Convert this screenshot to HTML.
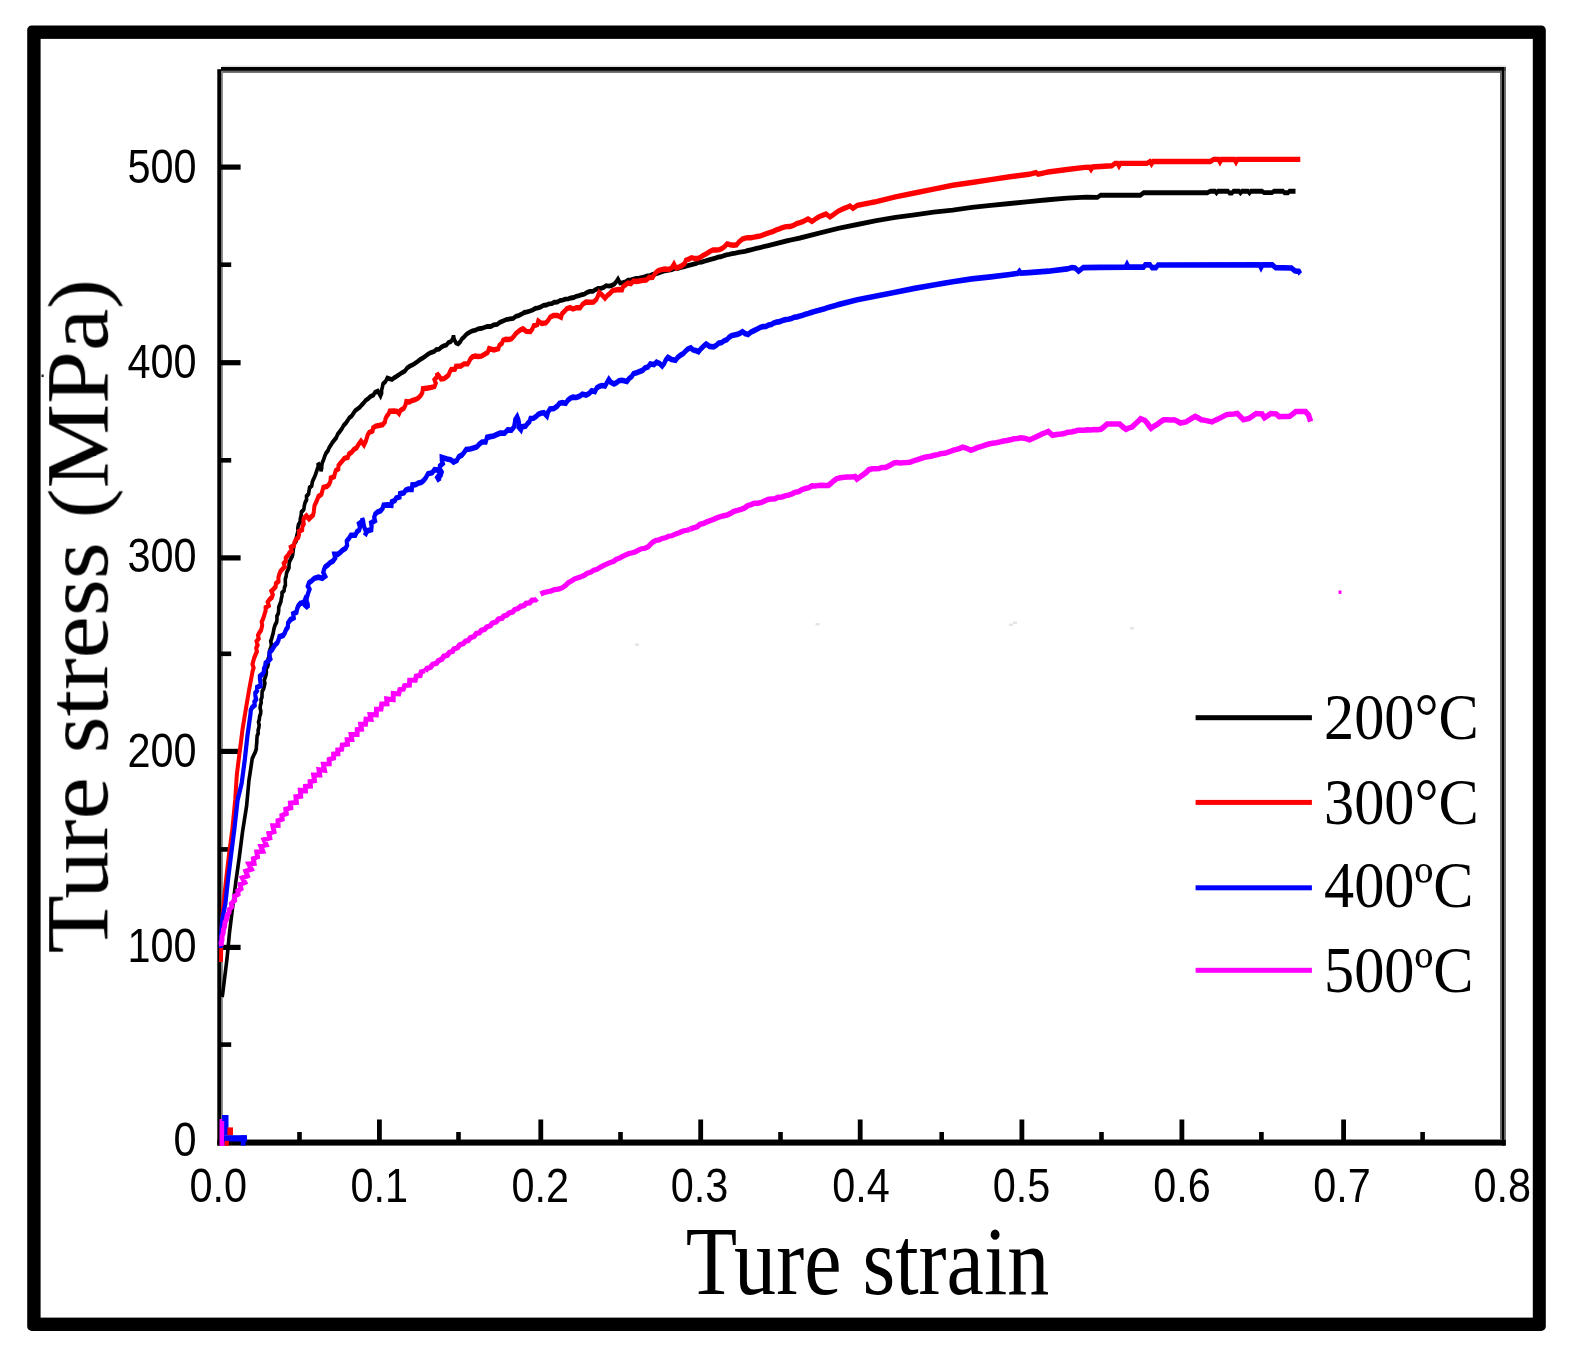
<!DOCTYPE html>
<html lang="en"><head><meta charset="utf-8"><title>Ture stress - Ture strain</title>
<style>
html,body{margin:0;padding:0;background:#fff;}
body{width:1572px;height:1354px;overflow:hidden;}
svg{display:block;}
.tk{font-family:"Liberation Sans",sans-serif;font-size:48px;fill:#000;}
.lb{font-family:"Liberation Serif",serif;fill:#000;}
.cv{fill:none;stroke-linejoin:miter;stroke-linecap:butt;}
</style></head><body>
<svg width="1572" height="1354" viewBox="0 0 1572 1354">
<rect x="0" y="0" width="1572" height="1354" fill="#fff"/>
<defs><filter id="soft" x="0" y="0" width="1572" height="1354" filterUnits="userSpaceOnUse"><feGaussianBlur stdDeviation="0.5"/></filter></defs>
<g filter="url(#soft)">
<rect x="27.2" y="25.5" width="1518.6" height="1305.4" rx="4.5" ry="4.5" fill="#000"/>
<rect x="40.6" y="38.9" width="1492.2" height="1278.7" fill="#fff"/>
<g id="frame">
<rect x="221.5" y="65.4" width="1284" height="1.6" fill="#e2e2e2"/>
<rect x="221" y="67" width="1284.8" height="3.9" fill="#000"/>
<rect x="222.5" y="70.9" width="1279.5" height="2" fill="#666"/>
<rect x="1500" y="70.9" width="2.1" height="1072" fill="#666"/>
<rect x="1502" y="67" width="2.3" height="1078.6" fill="#000"/>
<rect x="1504.2" y="67" width="1.6" height="1078.6" fill="#555"/>
<rect x="217.3" y="69.2" width="4.2" height="1076.4" fill="#000"/>
<rect x="221.5" y="70.9" width="1.3" height="1069" fill="#777"/>
<rect x="222" y="1139.1" width="1280" height="0.8" fill="#999"/>
<rect x="217.3" y="1139.8" width="1288.5" height="5.8" fill="#000"/>
<rect x="377.0" y="1119.5" width="4.8" height="22" fill="#000"/>
<rect x="538.4" y="1119.5" width="4.8" height="22" fill="#000"/>
<rect x="698.3" y="1119.5" width="4.8" height="22" fill="#000"/>
<rect x="857.8" y="1119.5" width="4.8" height="22" fill="#000"/>
<rect x="1019.5" y="1119.5" width="4.8" height="22" fill="#000"/>
<rect x="1179.5" y="1119.5" width="4.8" height="22" fill="#000"/>
<rect x="1341.2" y="1119.5" width="4.8" height="22" fill="#000"/>
<rect x="297.2" y="1132" width="4.6" height="9" fill="#000"/>
<rect x="456.2" y="1132" width="4.6" height="9" fill="#000"/>
<rect x="618.2" y="1132" width="4.6" height="9" fill="#000"/>
<rect x="778.2" y="1132" width="4.6" height="9" fill="#000"/>
<rect x="939.4" y="1132" width="4.6" height="9" fill="#000"/>
<rect x="1099.2" y="1132" width="4.6" height="9" fill="#000"/>
<rect x="1259.1" y="1132" width="4.6" height="9" fill="#000"/>
<rect x="1420.3" y="1132" width="4.6" height="9" fill="#000"/>
<rect x="221" y="944.8" width="19.6" height="5.2" fill="#000"/>
<rect x="221" y="748.8" width="19.6" height="5.2" fill="#000"/>
<rect x="221" y="555.3" width="19.6" height="5.2" fill="#000"/>
<rect x="221" y="360.1" width="19.6" height="5.2" fill="#000"/>
<rect x="221" y="164.5" width="19.6" height="5.2" fill="#000"/>
<rect x="221" y="1042.3" width="10.2" height="4.6" fill="#000"/>
<rect x="221" y="847.1" width="10.2" height="4.6" fill="#000"/>
<rect x="221" y="651.5" width="10.2" height="4.6" fill="#000"/>
<rect x="221" y="458.0" width="10.2" height="4.6" fill="#000"/>
<rect x="221" y="262.4" width="10.2" height="4.6" fill="#000"/>
</g>
<g id="curves">
<g transform="scale(1,1.35)" stroke-miterlimit="2">
<polyline class="cv" stroke="#000" stroke-width="3.6" points="222.2,738.52 222.9,734.81 224.6,724.59 227.0,710.15 229.5,690.89 232.7,671.63 236.0,652.37 239.2,635.56 242.5,616.30 246.6,597.04 249.0,577.78 249.8,574.07 252.2,562.00 253.6,559.61 255.2,557.30 256.3,554.81 256.4,552.40 256.8,550.00 256.9,547.59 257.1,545.19 258.2,543.19 258.1,541.09 258.8,539.05 259.2,537.00 258.5,534.83 259.3,532.81 259.6,530.74 260.6,528.74 260.8,526.66 260.1,524.50 260.4,522.43 261.2,520.41 261.0,518.30 262.0,516.30 262.0,514.18 262.2,512.09 263.6,510.14 264.3,508.10 264.9,506.06 264.2,503.85 265.2,501.85 266.0,499.83 266.4,497.76 266.1,495.59 267.7,493.67 268.3,491.63 267.6,489.42 268.5,487.41 269.7,485.43 269.3,483.26 269.9,481.21 271.1,479.25 271.3,477.15 270.7,474.96 271.7,472.96 272.4,470.91 273.2,468.90 273.7,466.82 274.3,464.74 275.2,462.75 276.6,460.84 277.0,458.74 276.9,456.42 278.3,454.35 278.7,452.12 278.7,449.82 279.8,447.70 280.9,445.56 281.3,443.33 282.0,441.30 282.0,439.14 284.1,437.36 284.4,435.27 285.4,433.28 285.3,431.11 285.3,428.85 286.2,426.72 286.5,424.50 287.8,422.44 289.0,420.43 289.0,418.16 289.5,416.01 290.8,414.00 292.3,412.04 292.9,409.91 293.2,407.70 293.6,405.27 294.2,402.86 296.2,400.71 296.4,398.24 297.1,395.85 298.1,393.61 297.8,391.16 298.4,388.85 300.1,386.71 300.3,384.35 301.1,382.07 301.4,379.47 303.8,377.30 304.3,374.73 305.1,372.22 306.6,370.13 306.5,367.66 308.6,365.75 309.1,363.41 309.5,361.25 311.8,359.63 312.2,357.48 313.1,355.46 314.4,353.56 315.8,350.87 317.0,348.15 318.2,345.63 318.0,342.96 319.3,344.84 320.6,346.76 321.0,348.89 321.7,346.86 321.8,344.75 322.3,342.68 323.5,340.74 324.6,338.15 326.0,335.67 328.2,333.48 329.2,331.50 330.8,329.77 332.3,327.97 334.0,326.30 336.3,324.19 337.7,321.62 340.0,319.48 342.0,317.43 343.6,315.16 346.0,313.33 347.7,311.47 349.3,309.47 351.8,308.07 353.4,306.18 355.0,304.30 357.5,302.96 359.8,301.65 361.7,299.99 363.7,298.44 365.6,296.60 368.2,295.26 370.5,293.70 373.3,292.78 375.0,290.66 377.8,289.70 380.5,293.33 381.6,291.19 381.6,288.87 382.4,286.67 383.0,284.44 385.6,282.49 387.3,280.07 392.0,281.11 394.3,279.80 396.7,278.70 399.1,277.48 402.0,276.06 405.0,274.75 407.1,272.56 410.0,271.11 412.8,270.26 415.3,268.95 417.8,267.69 420.2,266.27 422.8,265.19 425.5,263.83 428.0,262.32 430.9,261.19 434.0,260.37 436.2,258.96 439.1,258.70 441.3,257.22 443.7,256.17 446.4,255.56 448.3,253.87 451.0,252.96 452.8,250.94 453.5,248.59 454.2,251.47 456.0,254.07 458.2,254.67 460.3,253.12 461.8,251.14 464.0,249.63 466.7,247.54 470.0,245.93 472.6,245.04 475.5,244.58 478.1,243.59 481.0,243.33 484.2,242.60 487.2,241.73 490.7,241.86 493.7,240.67 497.1,240.22 499.9,238.79 503.0,237.78 506.4,236.67 510.0,236.15 513.3,235.83 516.0,234.26 519.1,233.63 521.7,232.67 524.3,231.47 527.2,231.09 530.0,230.38 532.7,229.61 535.3,228.47 538.2,228.00 540.9,227.40 543.4,226.23 546.3,225.92 548.9,225.12 551.8,224.87 554.4,223.86 557.3,223.78 559.8,222.62 562.6,222.33 565.3,221.63 568.2,221.42 570.9,220.74 573.7,220.38 576.3,219.48 579.1,218.96 581.9,218.33 584.7,217.81 587.2,216.56 589.9,215.79 592.9,215.83 595.4,214.59 598.0,213.58 601.0,213.62 603.7,212.91 606.1,211.62 609.2,211.90 612.0,211.35 614.5,210.30 616.4,208.56 618.0,206.67 620.0,209.63 622.8,209.30 625.6,208.82 628.0,207.58 630.9,207.40 633.6,206.81 636.3,206.31 639.2,206.10 641.9,205.57 644.6,205.08 647.3,204.35 650.1,204.12 652.7,203.26 655.5,202.89 658.2,202.39 660.8,201.53 663.5,200.87 666.2,200.44 669.0,200.10 671.8,199.70 674.9,198.86 678.2,198.73 681.3,197.96 684.5,197.41 687.7,196.82 690.8,196.15 693.6,195.69 696.3,195.04 698.9,194.25 701.8,194.09 704.5,193.52 707.2,192.85 709.9,192.30 712.6,191.76 715.4,191.25 718.0,190.49 720.8,190.18 723.5,189.46 726.2,188.84 729.0,188.44 732.2,187.91 735.4,187.53 738.5,186.93 741.7,186.57 744.9,186.14 748.1,185.56 750.8,185.06 753.6,184.55 756.3,184.06 759.0,183.58 761.8,183.09 764.5,182.58 767.2,182.07 786.3,178.52 800.0,176.30 819.1,172.67 838.2,169.11 857.3,166.30 876.3,163.41 895.4,161.04 914.5,159.19 933.6,157.11 952.7,155.70 971.8,153.56 990.8,152.15 1009.9,150.74 1029.0,149.33 1048.1,147.93 1067.2,146.74 1086.3,146.07 1097.5,146.22 1100.7,144.59 1140.4,144.59 1143.6,142.81 1207.2,142.81 1210.4,141.63 1215.0,141.63 1216.5,142.96 1218.0,141.63 1228.0,141.63 1229.5,142.96 1232.0,142.96 1233.5,141.63 1239.0,141.63 1240.5,142.96 1242.0,141.63 1248.0,141.63 1249.5,142.96 1251.0,141.63 1262.0,141.63 1264.0,142.67 1272.0,142.67 1274.0,141.63 1283.0,141.63 1284.5,142.81 1288.0,142.81 1289.5,141.63 1295.5,141.63"/>
<polyline class="cv" stroke="#f00" stroke-width="4.0" points="221.0,712.59 221.3,696.30 221.8,685.19 223.5,669.26 226.0,652.37 229.0,633.11 232.4,613.85 235.2,592.59 236.8,574.07 239.2,559.63 240.9,550.00 242.5,540.37 245.7,525.93 249.0,511.48 252.6,497.04 253.6,494.68 252.5,492.04 253.3,489.66 254.2,487.28 255.5,484.96 256.9,482.67 256.2,480.08 257.6,477.79 256.6,475.15 258.7,472.96 258.0,470.72 259.2,468.79 261.0,466.95 261.7,464.93 262.2,462.89 261.7,460.67 262.9,458.74 263.9,456.66 264.7,454.53 265.6,452.43 265.6,450.09 268.7,448.54 267.7,445.96 269.5,444.07 271.9,442.51 272.8,440.51 271.4,437.78 273.7,436.19 275.7,434.52 275.9,432.30 278.5,430.56 278.4,427.92 279.2,425.60 280.4,423.38 282.5,421.48 284.8,419.88 283.8,417.30 285.9,415.64 285.7,413.31 287.8,411.63 289.2,409.68 291.7,408.13 290.8,405.34 294.0,404.05 294.5,401.76 295.8,399.78 298.2,398.20 299.0,396.05 299.1,393.62 302.2,392.32 302.4,389.95 303.8,388.00 303.3,385.70 304.1,383.71 306.4,382.07 309.0,384.44 311.0,382.95 313.1,381.48 313.8,379.22 314.1,376.89 314.5,374.57 315.8,372.44 317.1,370.30 318.4,367.80 321.5,366.08 322.4,363.41 323.3,360.96 327.0,360.33 329.2,358.73 330.4,356.52 330.7,354.16 334.2,352.98 334.9,350.78 335.7,348.59 338.3,347.32 338.5,344.77 340.3,343.10 342.3,341.48 344.3,339.59 347.8,338.79 349.0,336.30 351.7,334.92 353.8,332.99 356.6,331.70 358.6,329.10 361.0,326.67 364.0,329.63 366.0,326.52 366.8,324.35 367.7,322.19 369.2,320.32 372.6,319.17 373.1,316.89 375.8,315.59 379.0,315.19 382.7,314.64 385.0,312.44 385.5,310.26 386.7,308.31 388.6,306.57 389.7,304.59 394.0,304.44 397.0,304.79 399.1,306.37 400.5,304.02 403.8,302.48 405.4,300.20 406.2,297.56 409.3,297.79 412.0,296.67 415.1,296.09 418.0,294.96 420.7,293.03 422.4,290.71 422.8,287.93 428.0,287.41 431.3,286.92 434.6,286.22 435.8,283.90 434.5,281.23 437.1,279.09 437.0,276.59 439.1,278.60 441.0,280.74 444.0,280.49 446.4,279.19 448.6,277.83 449.7,275.73 451.1,273.81 455.0,273.54 455.9,271.33 461.0,271.11 464.0,269.54 467.7,269.56 469.2,267.77 470.4,265.86 472.4,264.30 475.2,263.74 478.0,264.07 481.3,263.84 484.2,262.59 487.7,261.08 489.0,258.22 494.0,259.26 498.4,258.22 499.3,255.91 501.9,254.29 503.1,252.07 505.8,251.27 508.7,251.46 511.5,250.96 513.6,249.31 515.4,247.44 517.7,245.95 520.0,244.55 522.9,243.56 526.3,245.44 530.5,245.63 532.4,243.68 533.7,241.37 537.3,240.33 538.2,237.85 541.6,239.63 545.8,239.26 548.2,237.30 550.1,234.94 553.4,233.63 557.5,233.67 561.1,235.04 562.0,232.41 564.5,230.60 566.8,228.67 570.0,227.87 573.0,228.89 576.5,227.87 580.2,228.00 582.5,225.48 585.9,223.70 589.7,223.86 593.5,223.70 596.4,221.80 597.9,219.30 599.2,216.67 602.3,218.64 605.0,220.89 607.4,218.88 610.1,217.17 612.6,215.26 615.7,214.78 618.9,214.47 622.1,214.59 623.1,212.36 625.5,210.99 627.9,209.63 631.0,210.17 633.4,208.16 636.5,208.53 639.3,208.15 642.7,207.70 646.2,207.44 649.2,205.58 652.7,205.41 654.2,203.49 656.0,201.81 658.4,200.44 661.7,199.74 665.1,199.28 668.7,199.60 671.8,198.30 674.0,195.56 676.0,198.52 679.4,197.63 682.2,196.62 684.6,195.22 685.9,192.78 688.9,191.93 691.6,190.90 694.7,191.52 697.7,191.44 700.4,190.52 703.5,189.08 706.8,187.81 709.9,186.30 712.9,185.20 716.3,185.22 719.5,184.89 722.4,183.89 724.9,182.39 727.1,180.67 730.2,181.29 733.4,181.65 736.6,181.33 739.2,179.03 742.4,177.11 745.2,176.37 748.0,176.06 751.0,176.08 753.8,175.70 757.2,175.16 760.6,174.68 763.9,173.79 767.2,172.89 770.3,172.14 773.4,171.37 776.3,170.28 779.4,169.49 782.4,168.59 786.1,167.88 790.0,167.78 793.4,166.97 796.6,165.70 800.0,164.89 802.8,164.20 805.4,163.18 808.0,162.22 812.0,164.07 814.3,162.85 816.6,161.63 819.1,160.59 822.5,159.48 826.0,158.52 830.0,160.74 832.8,159.31 835.5,157.87 838.2,156.37 841.1,155.36 844.1,154.41 847.1,153.54 850.0,152.59 853.0,154.44 857.3,152.15 860.5,151.68 863.6,151.21 866.8,150.73 870.0,150.27 873.1,149.79 876.3,149.33 895.4,145.78 914.5,142.96 933.6,140.15 952.7,137.26 971.8,135.19 990.8,133.04 1009.9,130.96 1029.0,129.11 1036.0,127.78 1038.0,129.04 1048.1,127.41 1067.2,125.56 1084.8,124.00 1089.5,123.93 1091.0,125.63 1092.5,123.70 1111.8,122.81 1115.0,121.04 1117.5,121.04 1119.0,122.96 1120.5,121.04 1146.8,121.04 1150.0,119.63 1151.5,121.48 1153.0,119.63 1210.4,119.63 1213.6,118.07 1218.5,118.07 1220.0,120.15 1221.5,118.15 1234.5,118.15 1236.0,120.15 1237.5,118.07 1300.3,118.07"/>
<polyline class="cv" stroke="#00f" stroke-width="4.2" points="220.6,702.22 221.0,692.59 222.2,681.26 225.4,669.26 227.9,652.37 231.1,633.11 234.4,613.85 237.6,592.59 241.7,580.07 244.9,562.00 247.4,545.19 250.6,528.30 250.7,526.04 252.1,524.06 254.7,522.35 254.4,520.00 256.1,518.08 255.4,515.67 255.3,513.38 257.1,511.48 257.1,509.25 260.6,507.87 260.5,505.64 260.0,503.28 259.9,501.02 262.5,499.43 264.0,497.58 264.0,495.34 265.2,493.41 265.6,491.17 268.2,489.70 270.3,488.05 269.2,485.27 269.7,483.09 272.0,481.49 273.5,479.64 275.0,477.78 277.3,476.22 278.5,474.07 279.4,471.68 283.1,470.77 284.8,468.78 286.0,466.50 287.8,464.59 288.1,461.47 290.5,458.89 293.7,457.60 293.2,454.65 296.5,453.42 297.1,450.96 298.3,448.75 300.3,447.01 303.9,446.27 305.1,444.07 306.7,445.86 305.3,448.43 307.8,450.00 307.8,447.75 306.6,445.49 306.7,443.24 307.5,440.98 308.4,438.73 309.5,436.48 307.8,434.22 309.0,431.63 311.9,430.13 314.4,428.37 318.4,427.56 322.4,428.37 325.1,426.89 323.3,424.06 324.0,421.99 325.1,420.03 327.7,418.52 330.1,416.80 333.0,415.56 335.2,413.34 334.4,410.67 337.7,410.64 340.1,409.28 342.3,407.70 345.6,406.16 347.1,403.85 346.8,400.80 349.0,398.81 350.9,396.51 355.3,396.50 356.9,393.93 359.2,392.52 360.0,390.37 359.0,387.93 362.1,386.29 362.3,384.07 363.2,386.15 363.6,388.27 364.2,390.37 365.3,392.43 366.3,394.48 364.9,396.81 365.9,394.73 367.8,393.13 371.3,392.40 371.6,389.93 371.1,387.34 375.0,385.69 374.2,383.04 375.2,380.77 377.5,379.26 380.7,378.31 382.6,376.54 383.5,374.22 387.5,374.03 391.5,374.22 391.8,371.76 394.8,370.77 396.2,368.90 399.6,368.11 400.0,365.70 403.9,365.04 405.6,363.15 408.3,362.37 411.8,362.45 412.3,359.25 415.5,358.96 418.0,358.00 421.4,357.28 423.9,355.74 426.0,353.70 428.0,350.90 432.2,350.15 434.4,347.96 438.0,348.15 440.1,350.72 437.3,353.72 439.3,356.30 438.7,354.03 440.8,351.98 441.7,349.83 439.9,347.47 439.9,345.26 442.8,343.26 441.8,340.97 441.7,338.74 447.0,340.00 450.6,340.50 453.5,342.22 456.9,340.96 458.7,338.37 462.0,337.04 464.2,335.05 466.2,332.96 470.0,332.59 473.5,331.92 476.8,331.01 479.3,329.03 482.0,327.41 485.7,327.41 487.0,323.99 490.3,323.41 493.7,322.96 496.8,321.86 500.0,320.89 504.5,320.85 507.6,318.44 511.5,318.53 514.0,316.30 514.7,313.63 515.2,310.95 517.2,308.59 518.4,311.00 519.1,313.51 518.5,316.31 521.0,318.44 522.0,316.18 525.7,315.61 527.4,313.81 529.5,312.27 530.5,310.00 533.6,309.85 536.0,308.56 538.3,306.98 540.9,306.10 543.9,305.70 547.0,308.15 548.0,305.40 550.0,302.96 554.0,302.63 557.3,300.81 559.4,298.83 562.3,298.22 565.8,298.73 567.8,296.53 570.2,295.15 572.9,294.16 576.3,294.44 579.4,293.59 582.2,292.01 586.2,292.70 589.1,291.46 591.6,289.48 594.9,290.06 596.7,287.44 599.1,286.25 601.8,285.57 605.0,285.93 606.9,283.48 608.8,281.04 610.9,283.17 614.0,284.44 616.6,283.40 619.0,281.98 622.1,281.70 627.0,282.59 629.0,280.51 631.7,278.88 633.6,276.74 636.7,276.06 639.7,275.16 642.6,274.31 645.0,272.52 648.1,271.79 650.2,269.65 654.1,270.04 656.5,268.30 659.7,269.34 662.2,271.11 664.3,269.06 665.7,266.72 667.9,264.74 671.5,266.25 675.6,266.89 677.6,264.82 680.3,263.23 683.2,261.93 685.4,260.16 687.8,258.63 690.8,257.70 693.0,259.21 695.9,259.70 698.5,260.52 700.8,258.43 703.4,256.60 706.1,254.81 709.6,256.56 713.7,256.96 716.3,255.80 718.5,254.31 721.6,253.80 724.0,252.45 726.9,251.67 729.0,249.93 731.4,248.64 734.3,248.18 737.2,247.69 739.9,246.85 742.4,245.63 745.0,247.07 748.1,247.78 751.0,246.01 754.3,244.80 757.6,243.56 760.2,242.56 762.9,241.90 766.0,241.78 768.5,240.78 771.4,240.33 773.9,239.21 776.7,238.59 779.7,238.22 782.5,237.44 785.4,236.77 788.4,236.48 791.3,236.01 794.1,234.99 797.1,234.69 800.0,234.07 802.7,233.50 805.4,232.80 808.2,232.23 810.9,231.57 813.6,230.99 816.3,230.39 819.1,229.85 821.8,229.25 824.6,228.65 827.3,228.04 830.0,227.43 832.7,226.83 835.5,226.23 838.2,225.63 857.3,222.07 876.3,219.26 895.4,216.44 914.5,213.63 933.6,211.11 952.7,208.67 971.8,206.59 990.8,205.11 1009.9,203.33 1018.0,202.44 1019.5,200.96 1021.0,202.37 1029.0,202.00 1048.1,200.89 1067.2,199.19 1072.0,198.15 1075.0,198.52 1078.6,200.89 1083.2,198.22 1100.0,198.07 1125.5,197.93 1127.0,195.78 1128.5,197.93 1143.6,197.85 1145.2,196.22 1150.0,196.22 1152.0,198.22 1156.0,198.22 1158.0,196.30 1259.5,196.22 1261.0,198.37 1262.5,196.22 1272.4,196.22 1275.6,198.22 1291.5,198.52 1294.7,200.52 1299.0,201.11 1300.3,202.96"/>
</g>
<polyline class="cv" stroke="#f0f" stroke-width="5.0" points="221.7,946.0 221.1,942.9 222.0,940.0 222.0,936.5 223.2,933.1 223.4,929.6 224.6,926.7 224.9,922.6 226.4,919.7 227.1,915.5 229.1,912.5 229.3,909.4 231.8,906.9 231.4,903.5 234.7,900.5 234.4,896.2 238.1,894.3 237.8,890.8 241.0,888.8 240.1,884.4 244.8,882.5 242.3,877.8 247.4,875.9 245.8,871.1 251.4,869.3 248.8,864.0 254.1,863.5 253.4,858.5 257.5,856.9 256.8,851.7 262.8,851.3 260.8,846.0 266.2,844.9 264.0,839.7 269.8,838.0 268.9,833.2 274.0,831.8 272.8,825.7 278.1,825.4 278.0,820.6 282.2,819.3 281.9,815.3 286.3,813.6 285.8,809.2 290.8,807.8 290.4,803.0 296.4,802.4 295.9,796.8 300.7,796.3 300.3,790.3 305.4,790.7 305.4,786.4 310.4,786.1 310.1,781.5 314.5,780.7 313.7,775.1 319.7,775.1 319.0,769.6 324.5,770.4 323.4,764.1 329.2,763.9 329.2,759.3 333.6,758.1 333.6,754.1 337.9,753.8 337.8,749.8 341.7,749.2 342.3,745.0 347.5,744.4 347.2,739.6 351.8,739.5 351.1,734.4 357.1,734.4 357.3,729.6 361.5,729.3 360.7,724.2 365.5,724.3 366.0,719.1 371.0,719.4 370.1,714.6 376.3,714.8 376.5,709.2 381.0,709.1 381.7,704.0 387.0,703.9 386.7,698.8 393.2,699.7 393.3,693.4 398.8,693.9 399.9,689.6 403.3,689.2 404.6,685.6 409.4,685.2 409.7,680.2 415.3,680.3 416.3,676.0 420.1,675.6 421.2,671.8 424.8,670.8"/>
<polyline class="cv" stroke="#f0f" stroke-width="5.3" points="425.2,671.4 427.0,668.5 430.5,667.2 432.7,664.3 436.4,663.4 438.3,660.7 441.8,659.3 443.9,656.2 447.2,655.4 449.5,652.3 452.4,651.5 453.9,648.9 457.5,647.7 459.7,644.7 463.2,643.7 465.5,641.2 468.2,640.7 470.3,637.7 474.0,636.5 476.4,633.4 479.4,632.8 481.3,630.4 484.6,629.4 486.7,627.0 490.3,625.7 492.4,623.1 496.1,621.9 498.6,619.0 502.0,618.3 503.7,616.0 506.5,615.3 509.2,612.9 512.5,612.1 514.7,609.5 518.0,608.7 520.7,606.3 524.0,605.6 526.1,603.3 529.5,603.0 532.1,600.2 535.5,600.0 537.0,598.6"/>
<polyline class="cv" stroke="#f0f" stroke-width="5.2" points="540.5,594.0 543.9,592.6 547.4,591.8 551.0,591.0 554.6,589.6 558.6,589.2 562.2,587.8 565.4,585.5 568.3,582.7 571.8,580.8 574.8,578.9 578.1,577.8 581.3,576.6 584.5,575.2 587.4,573.2 590.8,572.2 593.8,570.2 597.3,569.2 600.3,567.3 603.4,565.6 606.6,564.0 609.9,562.6 613.3,561.6 616.2,559.4 619.5,558.1 622.6,556.4 625.8,554.9 629.0,553.5 632.3,552.8 635.6,551.8 638.5,550.0 641.6,548.7 645.0,548.2 648.1,546.8 650.4,544.4 652.8,542.2 655.7,540.5 659.0,539.9 662.0,538.4 665.4,537.8 668.4,536.3 671.7,535.8 674.8,534.4 677.8,533.3 680.8,532.0 683.8,530.8 687.0,530.3 690.0,529.2"/>
<polyline class="cv" stroke="#f0f" stroke-width="5.5" points="690.0,529.2 693.5,527.9 697.0,526.8 700.0,524.4 703.7,523.5 706.9,521.8 710.4,520.5 713.8,519.3 717.0,517.7 720.5,516.7 723.9,515.7 727.5,515.0 730.7,513.3 733.9,511.4 737.5,510.4 741.0,509.3 744.5,508.0 747.6,505.7 751.1,504.6 754.4,503.3 758.0,503.2 761.4,502.4 764.6,500.9 767.9,499.5 771.4,499.1 774.9,498.7 778.2,497.3 781.7,497.0 785.0,495.8 788.5,495.2 791.8,494.0 795.1,492.3 798.7,491.6 801.8,489.7 805.3,488.5 808.8,487.6 812.1,485.9 815.4,486.1 818.6,485.4 821.9,485.3 825.1,485.4 828.4,485.4 831.1,483.2 833.8,480.8 836.6,478.7 840.3,477.8 844.2,477.3 848.0,477.0 851.5,477.0 855.0,476.5 857.0,479.0 862.0,475.5 865.8,472.8 869.1,469.6 872.3,468.8 875.6,468.8 878.9,468.6 882.1,467.5 885.4,467.5 889.6,465.6 893.6,463.1 896.8,462.6 900.1,462.9 903.3,462.7 906.6,462.6 909.8,462.4 913.3,461.0 916.9,459.8 920.5,458.7 924.1,457.4 927.5,456.7 930.9,456.2 934.3,455.3 937.7,454.6 941.0,453.6 944.5,453.3 947.6,452.4 950.6,451.3 953.6,450.1 956.8,449.4 959.8,448.4 962.8,447.2 966.0,448.0 970.9,450.2 974.5,448.9 978.0,447.4 981.6,446.4 985.2,445.1 988.8,444.0 992.5,443.3 996.3,442.7 1000.0,441.9 1003.5,441.0 1007.0,440.5 1010.5,439.8 1013.9,438.8 1017.5,438.5 1021.0,437.7 1025.3,438.5 1029.4,439.8 1032.6,438.5 1035.8,437.1 1038.9,435.6 1041.9,434.0 1045.2,432.8 1048.3,431.4 1052.5,435.2 1056.7,434.5 1061.0,434.0 1064.4,433.5 1067.6,432.3 1071.1,432.0 1074.4,431.3 1077.7,430.3 1081.0,430.3 1084.3,430.2 1087.6,429.7 1090.9,430.0 1094.2,429.6 1097.5,429.7 1100.8,429.3 1104.1,426.8 1107.1,424.0 1111.3,423.9 1115.5,424.1 1119.7,424.0 1122.7,426.8 1126.0,429.3 1128.9,428.0 1132.0,427.0 1134.9,424.2 1137.9,421.6 1140.7,418.8 1145.0,420.5 1147.1,423.0 1149.0,425.7 1151.1,428.2 1154.2,426.0 1157.5,424.1 1160.5,421.8 1163.7,419.8 1167.2,419.8 1170.7,419.9 1174.2,419.8 1177.4,421.3 1180.5,423.0 1186.0,422.0 1189.0,420.0 1192.1,418.2 1195.2,416.3 1198.4,418.0 1201.5,419.8 1205.0,420.4 1208.5,421.1 1212.0,421.9 1214.9,420.4 1217.9,419.1 1220.8,417.6 1223.8,416.1 1226.7,414.6 1230.2,414.2 1233.7,413.9 1237.2,413.5 1240.4,416.6 1243.5,419.8 1249.0,418.5 1252.6,416.0 1256.1,413.5 1262.0,414.0 1264.5,417.7 1267.7,415.6 1270.8,413.5 1276.0,414.0 1279.2,416.7 1282.7,416.6 1286.2,416.5 1289.7,416.3 1292.9,413.9 1296.0,411.4 1300.7,411.4 1305.4,411.4 1308.5,415.0 1309.6,418.3 1310.7,421.5"/>
<rect x="219.6" y="1119" width="5" height="27" fill="#f0f"/>
<rect x="222" y="1115" width="6.5" height="20" fill="#00f"/>
<rect x="219.8" y="1121" width="4.4" height="24.5" fill="#f0f"/>
<rect x="227.4" y="1127.4" width="5.6" height="8" fill="#f00"/>
<rect x="224" y="1135.2" width="23" height="6.3" fill="#00f"/>
<rect x="240.8" y="1135.2" width="4.8" height="10.4" fill="#00f"/>
<rect x="224.9" y="1140.8" width="4" height="5" fill="#f00"/>
<rect x="1338.5" y="590.5" width="3" height="3.4" fill="#f0f"/>
<rect x="635" y="643.5" width="4" height="2.4" fill="#e4e4e4"/>
<rect x="815.5" y="623" width="4" height="2.4" fill="#e4e4e4"/>
<rect x="1009" y="623.5" width="4" height="2.4" fill="#e4e4e4"/>
<rect x="1013" y="621.5" width="4" height="2.4" fill="#e4e4e4"/>
<rect x="1130" y="627" width="4" height="2.4" fill="#e4e4e4"/>
<rect x="41.5" y="374.5" width="2.2" height="2.6" fill="#222"/>
</g>
<g id="ticklabels">
<text class="tk" text-anchor="middle" transform="translate(218.2,1202.3) scale(0.862,1)">0.0</text>
<text class="tk" text-anchor="middle" transform="translate(379.2,1202.3) scale(0.862,1)">0.1</text>
<text class="tk" text-anchor="middle" transform="translate(540.3,1202.3) scale(0.862,1)">0.2</text>
<text class="tk" text-anchor="middle" transform="translate(699.5,1202.3) scale(0.862,1)">0.3</text>
<text class="tk" text-anchor="middle" transform="translate(861.0,1202.3) scale(0.862,1)">0.4</text>
<text class="tk" text-anchor="middle" transform="translate(1021.5,1202.3) scale(0.862,1)">0.5</text>
<text class="tk" text-anchor="middle" transform="translate(1182.0,1202.3) scale(0.862,1)">0.6</text>
<text class="tk" text-anchor="middle" transform="translate(1342.0,1202.3) scale(0.862,1)">0.7</text>
<text class="tk" text-anchor="middle" transform="translate(1502.2,1202.3) scale(0.862,1)">0.8</text>
<text class="tk" text-anchor="end" transform="translate(196.6,1155.9) scale(0.862,1)">0</text>
<text class="tk" text-anchor="end" transform="translate(196.6,961.9) scale(0.862,1)">100</text>
<text class="tk" text-anchor="end" transform="translate(196.6,767.1) scale(0.862,1)">200</text>
<text class="tk" text-anchor="end" transform="translate(196.6,572.3) scale(0.862,1)">300</text>
<text class="tk" text-anchor="end" transform="translate(196.6,377.5) scale(0.862,1)">400</text>
<text class="tk" text-anchor="end" transform="translate(196.6,182.7) scale(0.862,1)">500</text>
</g>
<text class="lb" font-size="97" text-anchor="middle" transform="translate(867.5,1294.3) scale(0.867,1)">Ture strain</text>
<text class="lb" font-size="88.5" text-anchor="middle" transform="translate(107.2,616.2) rotate(-90) scale(1.075,1)">Ture stress <tspan font-size="83.2" dy="-2.4">(</tspan><tspan dy="2.4">MPa</tspan><tspan font-size="83.2" dy="-2.4">)</tspan></text>
<g id="legend">
<rect x="1195.6" y="715.2" width="116.3" height="5" fill="#000"/>
<text class="lb" font-size="65" transform="translate(1324,739.1) scale(0.928,1)">200°C</text>
<rect x="1195.6" y="799.9" width="116.3" height="5" fill="#f00"/>
<text class="lb" font-size="65" transform="translate(1324,823.8) scale(0.928,1)">300°C</text>
<rect x="1195.6" y="885.3" width="116.3" height="5" fill="#00f"/>
<text class="lb" font-size="65" transform="translate(1324,906.7) scale(0.928,1)">400ºC</text>
<rect x="1195.6" y="967.8" width="116.3" height="5" fill="#f0f"/>
<text class="lb" font-size="65" transform="translate(1324,991.6) scale(0.928,1)">500ºC</text>
</g>
</g>
</svg>
</body></html>
